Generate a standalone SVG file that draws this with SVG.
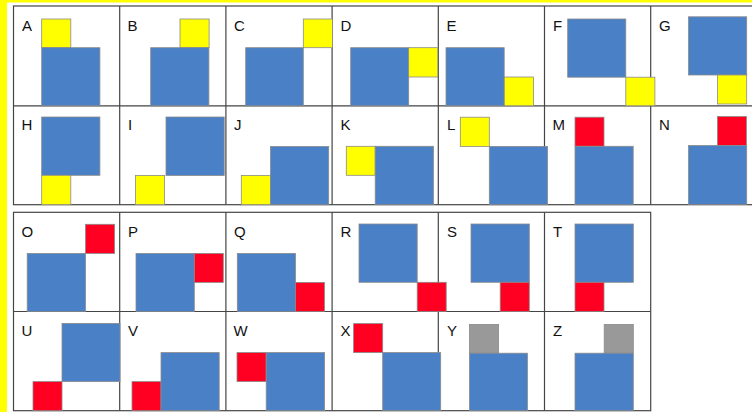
<svg xmlns="http://www.w3.org/2000/svg" width="752" height="412" viewBox="0 0 752 412">
<style>
.bg{fill:#ffffff}
.yb{fill:#ffff00}
.grid{fill:none;stroke:#454545;stroke-width:1.2}
.b{fill:#4a80c6;stroke:#8a8a8a;stroke-width:0.8}
.y{fill:#ffff00;stroke:#8a8a8a;stroke-width:0.8}
.r{fill:#ff0022;stroke:#8a8a8a;stroke-width:0.8}
.g{fill:#999999;stroke:#8a8a8a;stroke-width:0.8}
.lbl{font-family:"Liberation Sans",Arial,sans-serif;font-size:15px;fill:#111111}
</style>
<rect class="bg" x="0" y="0" width="752" height="412"/>
<rect class="yb" x="0" y="0" width="752" height="2.5"/>
<rect class="yb" x="0" y="0" width="7" height="412"/>
<g id="grid">
<rect class="grid" x="13.5" y="6" width="744" height="198.7"/>
<path class="grid" d="M119.7 6V204.7M225.9 6V204.7M332.1 6V204.7M438.3 6V204.7M544.5 6V204.7M650.7 6V204.7M13.5 105.8H757.5"/>
<rect class="grid" x="13.5" y="212.3" width="637.2" height="198.4"/>
<path class="grid" d="M119.7 212.3V410.7M225.9 212.3V410.7M332.1 212.3V410.7M438.3 212.3V410.7M544.5 212.3V410.7M13.5 311.5H650.7"/>
</g>
<g id="connectors"/>
<g id="cell-A"><text class="lbl" x="22" y="30.5">A</text><rect class="y" x="41.7" y="19" width="29.1" height="28.7"/><rect class="b" x="41.7" y="47.7" width="58.2" height="58.1"/></g>
<g id="cell-B"><text class="lbl" x="127.5" y="30.5">B</text><rect class="y" x="180" y="19" width="29.1" height="28.7"/><rect class="b" x="150.7" y="47.7" width="58.2" height="58.1"/></g>
<g id="cell-C"><text class="lbl" x="234" y="30.5">C</text><rect class="y" x="303.3" y="19" width="29.1" height="28.7"/><rect class="b" x="245.7" y="47.7" width="57.6" height="58.1"/></g>
<g id="cell-D"><text class="lbl" x="340.5" y="30.5">D</text><rect class="b" x="350.7" y="47.7" width="58" height="58.1"/><rect class="y" x="408.7" y="47.7" width="29.1" height="29.3"/></g>
<g id="cell-E"><text class="lbl" x="446.5" y="30.5">E</text><rect class="b" x="446" y="47.7" width="58.2" height="58.1"/><rect class="y" x="504.3" y="77" width="29.1" height="28.8"/></g>
<g id="cell-F"><text class="lbl" x="553" y="30.5">F</text><rect class="b" x="567.7" y="19" width="58.1" height="58.2"/><rect class="y" x="625.8" y="77.2" width="29.1" height="28.6"/></g>
<g id="cell-G"><text class="lbl" x="659" y="30.5">G</text><rect class="b" x="688.5" y="16.8" width="58.2" height="58.2"/><rect class="y" x="717.6" y="75" width="29.1" height="29"/></g>
<g id="cell-H"><text class="lbl" x="21.5" y="130">H</text><rect class="b" x="41.7" y="117" width="58.2" height="58.3"/><rect class="y" x="41.7" y="175.3" width="29.1" height="29.4"/></g>
<g id="cell-I"><text class="lbl" x="128" y="130">I</text><rect class="b" x="166" y="117" width="58.2" height="58.5"/><rect class="y" x="135.5" y="175.5" width="29.1" height="29.2"/></g>
<g id="cell-J"><text class="lbl" x="234" y="130">J</text><rect class="y" x="241.3" y="175.5" width="29.2" height="29.2"/><rect class="b" x="270.5" y="146.5" width="58.2" height="58.2"/></g>
<g id="cell-K"><text class="lbl" x="340.5" y="130">K</text><rect class="y" x="346.3" y="146.3" width="28.9" height="29"/><rect class="b" x="375.2" y="146.3" width="58.2" height="58.4"/></g>
<g id="cell-L"><text class="lbl" x="447" y="130">L</text><rect class="y" x="460.3" y="117.2" width="29" height="29.2"/><rect class="b" x="489.3" y="146.4" width="58.2" height="58.3"/></g>
<g id="cell-M"><text class="lbl" x="552.5" y="130">M</text><rect class="r" x="575" y="117.2" width="29" height="29.1"/><rect class="b" x="575" y="146.3" width="58.2" height="58.4"/></g>
<g id="cell-N"><text class="lbl" x="659" y="130">N</text><rect class="r" x="717.4" y="116.5" width="29" height="29"/><rect class="b" x="688.5" y="145.5" width="58.2" height="58.9"/></g>
<g id="cell-O"><text class="lbl" x="21.5" y="236.5">O</text><rect class="r" x="85.5" y="224.3" width="29.1" height="29.1"/><rect class="b" x="27.2" y="253.4" width="58.3" height="58.1"/></g>
<g id="cell-P"><text class="lbl" x="128" y="236.5">P</text><rect class="b" x="136" y="253.4" width="58.3" height="58.1"/><rect class="r" x="194.3" y="253.4" width="29" height="29"/></g>
<g id="cell-Q"><text class="lbl" x="234" y="236.5">Q</text><rect class="b" x="237.3" y="253.4" width="58.2" height="58.1"/><rect class="r" x="295.5" y="282.4" width="29" height="29.1"/></g>
<g id="cell-R"><text class="lbl" x="340.5" y="236.5">R</text><rect class="b" x="359" y="224" width="58.2" height="58.3"/><rect class="r" x="417.2" y="282.3" width="29" height="29.2"/></g>
<g id="cell-S"><text class="lbl" x="447" y="236.5">S</text><rect class="b" x="471" y="224" width="58.3" height="58.3"/><rect class="r" x="500.2" y="282.3" width="29.1" height="29.2"/></g>
<g id="cell-T"><text class="lbl" x="553" y="236.5">T</text><rect class="b" x="575" y="224" width="58.3" height="58.3"/><rect class="r" x="575" y="282.3" width="29" height="29.2"/></g>
<g id="cell-U"><text class="lbl" x="21.5" y="336">U</text><rect class="b" x="62" y="323.4" width="58" height="58.2"/><rect class="r" x="33" y="381.6" width="29" height="29.1"/></g>
<g id="cell-V"><text class="lbl" x="128" y="336">V</text><rect class="r" x="132" y="381.6" width="29" height="29.1"/><rect class="b" x="161" y="352.6" width="58.2" height="58.1"/></g>
<g id="cell-W"><text class="lbl" x="233.5" y="336">W</text><rect class="r" x="237" y="352.6" width="29.2" height="29"/><rect class="b" x="266.2" y="352.6" width="58.4" height="58.1"/></g>
<g id="cell-X"><text class="lbl" x="340.5" y="336">X</text><rect class="r" x="353.6" y="323.6" width="29.1" height="29"/><rect class="b" x="382.7" y="352.6" width="58" height="58.1"/></g>
<g id="cell-Y"><text class="lbl" x="447" y="336">Y</text><rect class="g" x="469.4" y="324.4" width="29.2" height="28.8"/><rect class="b" x="469.4" y="353.2" width="58" height="57.5"/></g>
<g id="cell-Z"><text class="lbl" x="553" y="336">Z</text><rect class="g" x="604.2" y="324.4" width="29.1" height="28.8"/><rect class="b" x="575" y="353.2" width="58.3" height="57.5"/></g>
</svg>
